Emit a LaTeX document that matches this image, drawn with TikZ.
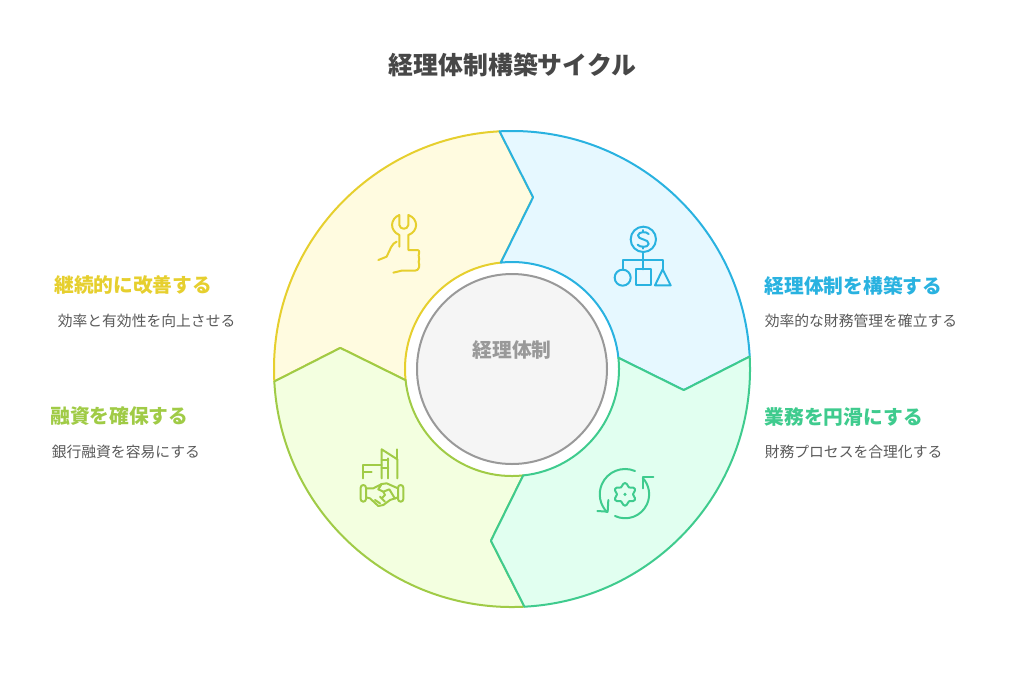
\documentclass[tikz,border=0pt]{standalone}
\usepackage{fontspec}
\setmainfont{Noto Sans CJK JP}
\definecolor{bluel}{HTML}{29B2E0}
\definecolor{bluef}{HTML}{E6F8FF}
\definecolor{greenl}{HTML}{3FCB8E}
\definecolor{greenf}{HTML}{E1FFF0}
\definecolor{limel}{HTML}{A0CB46}
\definecolor{limef}{HTML}{F3FFE0}
\definecolor{yellowl}{HTML}{E6CF2E}
\definecolor{yellowf}{HTML}{FFFBE0}
\tikzset{
 heading/.style={anchor=west,inner sep=0pt,font=\fontsize{14.8pt}{16pt}\selectfont\bfseries},
 desc/.style={anchor=west,inner sep=0pt,text=black!65,font=\fontsize{11.1pt}{13pt}\selectfont},
 icon/.style={line width=1.5pt,line cap=round,line join=round},
}
\begin{document}
\begin{tikzpicture}[x=.75pt,y=.75pt]
 \useasboundingbox (0,0) rectangle (1024,-676);
 \coordinate (O) at (512,-369); %中心

 % 四つの扇形
 \foreach \rot/\lcol/\fcol in {90/yellowl/yellowf,0/bluel/bluef,-180/limel/limef,-90/greenl/greenf}{
  \begin{scope}[shift={(O)},rotate=\rot]
   \draw[line width=1.5pt,line join=round,draw=\lcol,fill=\fcol]
    (93:238) -- (83:173) -- (96:107) arc[start angle=96,end angle=6,radius=107]
    -- (-7:173) -- (3:238) arc[start angle=3,end angle=93,radius=238] -- cycle;
  \end{scope}
 }

 % 中央の円
 \node[circle,draw=black!40,line width=1.5pt,fill=black!4,minimum size=142.5pt,inner sep=0pt] (center) at (O) {};
 \node[text=black!40,inner sep=0pt,font=\fontsize{14.8pt}{16pt}\selectfont\bfseries] (centerlabel) at (512,-350) {経理体制};

 % タイトル
 \node[text=black!72,inner sep=0pt,font=\fontsize{18.65pt}{20pt}\selectfont\bfseries] (title) at (512.5,-65) {経理体制構築サイクル};

 % 右側のテキスト
 \node[heading,text=bluel] (h1) at (764.5,-285.5) {経理体制を構築する};
 \node[desc] (d1) at (764.5,-321) {効率的な財務管理を確立する};
 \node[heading,text=greenl] (h2) at (764.5,-416.5) {業務を円滑にする};
 \node[desc] (d2) at (764.5,-452) {財務プロセスを合理化する};
 % 左側のテキスト
 \node[heading,text=yellowl] (h4) at (54,-285.5) {継続的に改善する};
 \node[desc] (d4) at (57.5,-321) {効率と有効性を向上させる};
 \node[heading,text=limel] (h3) at (50,-416.5) {融資を確保する};
 \node[desc] (d3) at (51.5,-452) {銀行融資を容易にする};

 % アイコン:組織
 \begin{scope}[shift={(590,-210)},xscale=1/3,yscale=-1/3,icon,draw=bluel]
  \draw (160,88) circle [radius=38];
  \draw (176,72) .. controls (170,64) and (146,64) .. (144,76) .. controls (142,90) and (178,86) .. (176,102) .. controls (174,114) and (148,112) .. (143,104);
  \draw (160,60)--(160,66) (160,110)--(160,116);
  \draw (160,126)--(160,178);
  \draw (98,178)--(98,150)--(218,150)--(218,178);
  \draw (98,203) circle [radius=24];
  \draw (137,178) rectangle (183,226);
  \draw (218,178)--(195,226)--(242,226)--cycle;
 \end{scope}

 % アイコン:レンチと手
 \begin{scope}[shift={(360,-200)},xscale=1/3,yscale=-1/3,icon,draw=yellowl]
  \draw (118,140)--(118,105) .. controls (88,92) and (90,56) .. (118,45) -- (118,75)
   .. controls (120,90) and (143,90) .. (145,75) -- (145,45) .. controls (176,56) and (176,94) .. (145,105) -- (145,150)
   -- (172,150) .. controls (180,150) and (178,160) .. (176,166) .. controls (180,175) and (176,180) .. (176,186)
   .. controls (180,196) and (178,212) .. (165,212) -- (125,212) -- (100,218);
  \draw (110,125) .. controls (95,130) and (90,150) .. (80,170) -- (55,180);
 \end{scope}

 % アイコン:握手と建物
 \begin{scope}[shift={(340,-450)},xscale=1/3,yscale=-1/3,icon,draw=limel]
  \draw (125,85)--(125,-2)--(172,28)--(172,85);
  \draw (172,28)--(172,-2);
  \draw (125,30)--(145,30) (125,55)--(145,55) (145,25)--(145,85);
  \draw (70,85)--(70,45)--(125,45) (70,65)--(95,65);
  \draw[rounded corners=2pt] (62,105) rectangle (78,155);
  \draw[rounded corners=2pt] (174,105) rectangle (190,155);
  \draw (78,115)--(100,115)--(125,102)--(140,100)--(174,115);
  \draw (78,142)--(90,145)--(115,168)--(130,165)--(150,150)--(174,142);
  \draw (125,102)--(115,118)--(130,125)--(148,118)--(165,146);
  \draw (130,125)--(135,135)--(125,145) (105,150)--(120,160) (120,140)--(135,155);
 \end{scope}

 % アイコン:歯車と矢印
 \begin{scope}[shift={(585,-460)},xscale=1/3,yscale=-1/3,icon,draw=greenl]
  \draw (150,33) arc[start angle=-67,end angle=-225,radius=76];
  \draw (37,153)--(68,155)--(70,120);
  \draw (90,168) arc[start angle=115,end angle=-43,radius=72];
  \draw (205,52)--(175,52)--(175,85);
  \draw plot[smooth cycle,samples=36,domain=0:350,variable=\t] ({120+(29+5*cos(6*\t))*cos(\t+90)},{103+(29+5*cos(6*\t))*sin(\t+90)});
  \fill[greenl] (120,103) circle [radius=5];
 \end{scope}
\end{tikzpicture}
\end{document}
